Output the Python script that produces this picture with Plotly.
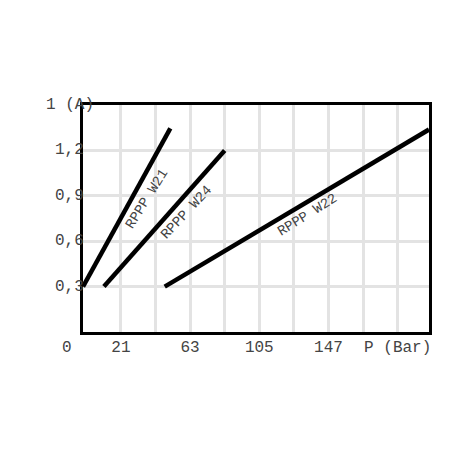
import plotly.graph_objects as go

# current (A) vs pressure (Bar) for the three valves
w21_p = [-2, 51]
w21_i = [0.3, 1.345]
w24_p = [10.7, 84]
w24_i = [0.3, 1.2]
w22_p = [47.6, 208]
w22_i = [0.3, 1.338]

x_grid = [21, 42, 63, 84, 105, 126, 147, 168, 189]
x_labels = ["21", "", "63", "", "105", "", "147", "", "P (Bar)"]
y_grid = [0.3, 0.6, 0.9, 1.2]
y_labels = ["0,3", "0,6", "0,9", "1,2"]

font_mono = "Liberation Mono, DejaVu Sans Mono, monospace"
txt_col = "#444444"

fig = go.Figure()
for px_, iy in [(w21_p, w21_i), (w24_p, w24_i), (w22_p, w22_i)]:
    fig.add_trace(go.Scatter(x=px_, y=iy, mode="lines",
                             line=dict(color="black", width=4.5),
                             hoverinfo="skip", showlegend=False, cliponaxis=False))

# y tick labels, drawn by hand so they can overlap the frame like the original
for v, t in zip(y_grid, y_labels):
    fig.add_annotation(x=0, xref="paper", y=v, yref="y", text=t, showarrow=False,
                       xanchor="right", xshift=3, font=dict(family=font_mono, size=16, color=txt_col))
fig.add_annotation(x=0, xref="paper", y=1.5, yref="y", text="1 (A)", showarrow=False,
                   xanchor="center", xshift=-13, font=dict(family=font_mono, size=16, color=txt_col))
fig.add_annotation(x=0, xref="paper", y=0, yref="paper", text="0", showarrow=False,
                   xanchor="center", yanchor="top", xshift=-16, yshift=-5,
                   font=dict(family=font_mono, size=16, color=txt_col))

# curve names along the lines
names = [("RPPP W21", 36.5, 0.88, -58), ("RPPP W24", 61, 0.79, -47), ("RPPP W22", 134, 0.77, -32)]
for t, x, y, a in names:
    fig.add_annotation(x=x, y=y, text=t, showarrow=False, textangle=a,
                       font=dict(family=font_mono, size=14, color=txt_col))

fig.update_xaxes(range=[-2, 208], tickmode="array", tickvals=x_grid, ticktext=x_labels,
                 showgrid=True, gridcolor="#e3e3e3", gridwidth=2.5, zeroline=False,
                 showline=True, mirror=True, linecolor="black", linewidth=2.5,
                 ticks="", ticklabelstandoff=-2,
                 tickfont=dict(family=font_mono, size=16, color=txt_col))
fig.update_yaxes(range=[0, 1.5], tickmode="array", tickvals=y_grid, ticktext=[""] * 4,
                 showgrid=True, gridcolor="#e3e3e3", gridwidth=2.5, zeroline=False,
                 showline=True, mirror=True, linecolor="black", linewidth=2.5, ticks="")

fig.update_layout(width=452, height=452, margin=dict(l=75, r=31, t=97, b=128),
                  paper_bgcolor="white", plot_bgcolor="white")

fig.write_html("out.html")
